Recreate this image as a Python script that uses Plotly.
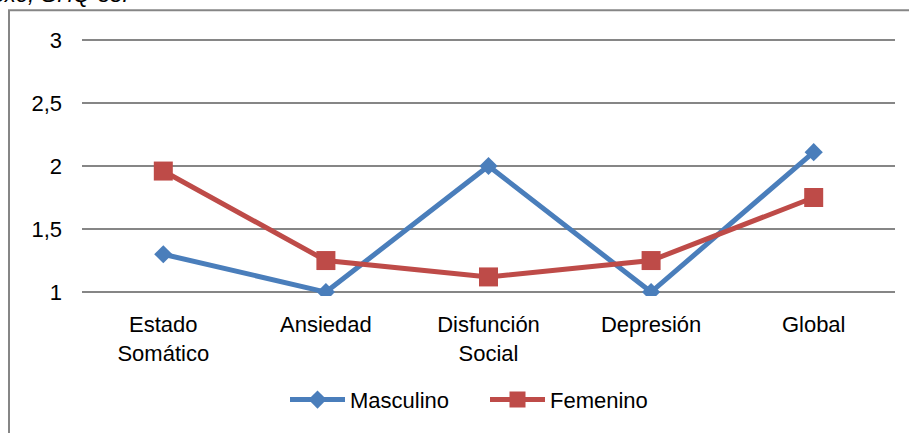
import plotly.graph_objects as go

# GHQ subscale means by sex
categories = ["Estado<br>Somático", "Ansiedad", "Disfunción<br>Social", "Depresión", "Global"]
masculino = [1.3, 1.0, 2.0, 1.0, 2.11]
femenino = [1.96, 1.25, 1.12, 1.25, 1.75]
y_ticks = [1, 1.5, 2, 2.5, 3]

BLUE = "#4A7EBB"
RED = "#BE4B48"
GRID = "#868686"
FONT = "Liberation Sans, Arial, sans-serif"
FS = 22

W, H = 909, 433
ML, MR, MT, MB = 82, 14, 37, 134
PW, PH = W - ML - MR, H - MT - MB
# small padding so the gridlines at 1 and 3 sit inside the plot area
PAD_TOP = 3 / 128.0
PAD_BOT = 4 / 128.0


def px_x(x):
    return (x - ML) / PW


def px_y(y):
    return (H - MB - y) / PH


fig = go.Figure()
fig.add_trace(go.Scatter(
    x=categories, y=masculino, name="Masculino", mode="lines+markers",
    line=dict(color=BLUE, width=5),
    marker=dict(symbol="diamond", size=14, color=BLUE, line=dict(width=0)),
))
fig.add_trace(go.Scatter(
    x=categories, y=femenino, name="Femenino", mode="lines+markers",
    line=dict(color=RED, width=5),
    marker=dict(symbol="square", size=19, color=RED, line=dict(width=0)),
))

fig.update_layout(
    width=W, height=H,
    margin=dict(l=ML, r=MR, t=MT, b=MB),
    paper_bgcolor="white", plot_bgcolor="white",
    separators=",.",
    font=dict(family=FONT, size=FS, color="black"),
    showlegend=True,
    legend=dict(
        orientation="h", x=px_x(485), y=px_y(404),
        xanchor="center", yanchor="middle",
        font=dict(size=FS), itemwidth=55, entrywidth=130,
        tracegroupgap=0, bgcolor="rgba(0,0,0,0)",
    ),
    xaxis=dict(
        type="category", showgrid=False, zeroline=False,
        showline=False, ticks="", tickfont=dict(size=FS),
        ticklabelstandoff=13, range=[-0.5, 4.5],
    ),
    yaxis=dict(
        range=[1 - PAD_BOT, 3 + PAD_TOP], tickvals=y_ticks, showgrid=True,
        gridcolor=GRID, gridwidth=2, zeroline=False,
        showline=False, ticks="", tickfont=dict(size=FS),
        ticklabelstandoff=19,
    ),
    shapes=[
        # chart frame (left and top edges visible)
        dict(type="rect", xref="paper", yref="paper",
             x0=px_x(9), x1=px_x(940), y0=px_y(460), y1=px_y(10),
             line=dict(color=GRID, width=2), fillcolor="rgba(0,0,0,0)", layer="below"),
    ],
    annotations=[
        dict(text="<i>resultados por sexo, GHQ-58.</i>", xref="paper", yref="paper",
             x=px_x(130), y=px_y(9), xanchor="right", yanchor="bottom",
             showarrow=False, font=dict(size=FS, color="black")),
    ],
)

fig.write_html("out.html")
